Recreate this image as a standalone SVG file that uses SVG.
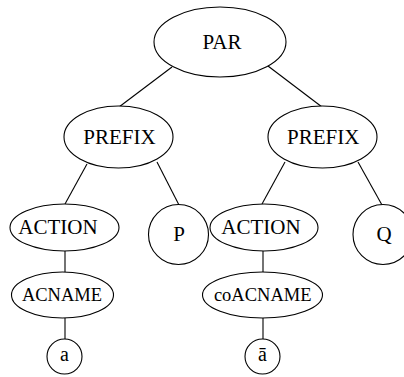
<svg xmlns="http://www.w3.org/2000/svg" width="404" height="377" viewBox="0 0 404 377">
  <style>
    .node ellipse, .node circle { fill: #ffffff; stroke: #000000; stroke-width: 1.1; }
    .node text { font-size: 21px; fill: #000000; text-anchor: middle; }
    .node text.small { font-size: 18.5px; }
    .node text.leaf { font-size: 20px; }
    #edges line { stroke: #000000; stroke-width: 1.1; }
  </style>
  <rect width="404" height="377" fill="#ffffff"/>

  <!-- tree edges -->
  <g id="edges">
    <line x1="172" y1="67" x2="119" y2="107"/>
    <line x1="268" y1="66" x2="322" y2="107"/>
    <line x1="87" y1="164" x2="65" y2="204"/>
    <line x1="157" y1="162" x2="179" y2="205"/>
    <line x1="285" y1="162" x2="262" y2="204"/>
    <line x1="358" y1="162" x2="382" y2="205"/>
    <line x1="65" y1="251" x2="65" y2="272"/>
    <line x1="65" y1="318" x2="65" y2="339"/>
    <line x1="263" y1="251" x2="263" y2="272"/>
    <line x1="263" y1="318" x2="263" y2="339"/>
  </g>

  <g font-family="'Liberation Serif', 'Times New Roman', Times, serif">
    <g id="par" class="node">
      <ellipse cx="220" cy="42" rx="66" ry="35"/>
      <text x="222" y="48.5">PAR</text>
    </g>

    <g id="prefix-left" class="node">
      <ellipse cx="118.5" cy="137" rx="54.5" ry="31"/>
      <text x="119.5" y="144.3">PREFIX</text>
    </g>

    <g id="prefix-right" class="node">
      <ellipse cx="322.5" cy="137" rx="54.5" ry="31"/>
      <text x="323.3" y="144.3">PREFIX</text>
    </g>

    <g id="action-left" class="node">
      <ellipse cx="64.5" cy="227.5" rx="54.5" ry="23.5"/>
      <text x="58" y="234">ACTION</text>
    </g>

    <g id="p" class="node">
      <circle cx="178.5" cy="234.5" r="30"/>
      <text x="179" y="240.5">P</text>
    </g>

    <g id="action-right" class="node">
      <ellipse cx="264" cy="227.5" rx="54" ry="23.5"/>
      <text x="261" y="234">ACTION</text>
    </g>

    <g id="q" class="node">
      <circle cx="383" cy="234.5" r="30"/>
      <text x="384" y="240.5">Q</text>
    </g>

    <g id="acname" class="node">
      <ellipse cx="62.5" cy="295" rx="51" ry="23"/>
      <text class="small" x="62" y="301">ACNAME</text>
    </g>

    <g id="coacname" class="node">
      <ellipse cx="262.5" cy="295" rx="60" ry="23"/>
      <text class="small" x="262.7" y="301">coACNAME</text>
    </g>

    <g id="a" class="node">
      <circle cx="64.5" cy="356.5" r="17.5"/>
      <text class="leaf" x="64.5" y="361">a</text>
    </g>

    <g id="a-bar" class="node">
      <circle cx="262.5" cy="356.5" r="17.5"/>
      <text class="leaf" x="262.5" y="361">ā</text>
    </g>
  </g>
</svg>
